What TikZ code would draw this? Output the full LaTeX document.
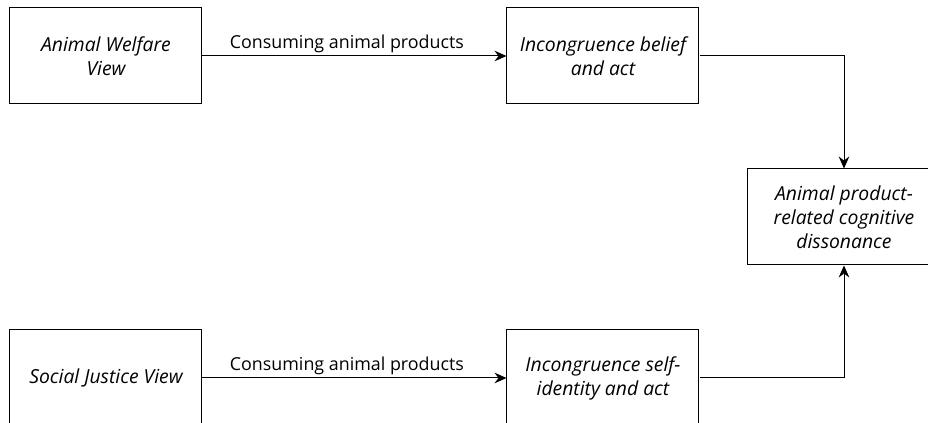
\documentclass[tikz,border=0pt]{standalone}
\usepackage{fontspec}
\setmainfont{Open Sans}
\usetikzlibrary{matrix,arrows.meta}

\tikzset{
  viewbox/.style={draw, line width=0.75pt, minimum width=144pt, minimum height=72pt,
    inner sep=0pt, align=center, font=\fontsize{14.5}{18}\selectfont\itshape},
  flow/.style={-{Stealth[length=9pt,width=8pt,inset=3pt]}, line width=0.75pt},
  actlabel/.style={above, pos=0.475, inner sep=2pt, font=\fontsize{13.4}{15}\selectfont}
}

\begin{document}
\begin{tikzpicture}
 \path[use as bounding box, clip] (-356.25pt,162.75pt) rectangle +(696pt,-317.25pt);
 \matrix (m) [row sep=48pt, column sep=36pt] at (0,0)
  {
    \node[viewbox] (welfare) {Animal Welfare\\View}; &[192pt]
    \node[viewbox] (belief) {Incongruence belief\\and act}; & \\
    & & \node[viewbox] (dissonance) {Animal product-\\related cognitive\\dissonance}; \\
    \node[viewbox] (justice) {Social Justice View}; &
    \node[viewbox] (identity) {Incongruence self-\\identity and act}; & \\
  };
  \path[flow]
  (welfare) edge node [actlabel] {Consuming animal products} (belief)
  (justice) edge node [actlabel] {Consuming animal products} (identity)
;
  \draw[flow] (belief) -| (dissonance);
  \draw[flow] (identity) -| (dissonance);
\end{tikzpicture}
\end{document}
